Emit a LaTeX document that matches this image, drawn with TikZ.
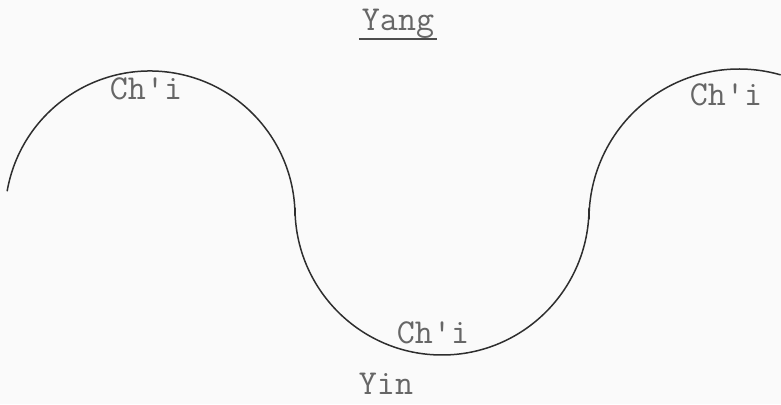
\documentclass[tikz,border=0pt]{standalone}
\usepackage{fontspec}
\begin{document}
\begin{tikzpicture}[x=1pt,y=1pt,
  lbl/.style={inner sep=0pt,anchor=base,text=black!60,font=\ttfamily\fontsize{35}{42}\selectfont},
  wave/.style={draw=black!82,line width=1.5pt,line cap=round,line join=round}]
\fill[black!2] (0,0) rectangle (781,404);
\useasboundingbox (0,0) rectangle (781,404);
% wave made of circular arcs
\draw[wave] (150,188) ++(170:145) arc[start angle=170,end angle=0,radius=145]
  -- (295,196) arc[start angle=180,end angle=360,radius=147]
  -- (589,185) arc[start angle=180,end angle=74,radius=150];
% labels
\node[lbl] (yang) at (398,373) {Yang};
\draw[black!70,line width=1.6pt] ([xshift=-3pt]yang.west |- 0,365) coordinate (ul1) -- ([xshift=3pt]yang.east |- 0,365) coordinate (ul2);
\node[lbl] (chi1) at (146,304) {Ch'i};
\node[lbl] (chi2) at (726,298) {Ch'i};
\node[lbl] (chi3) at (433,60) {Ch'i};
\node[lbl] (yin) at (386,10) {Yin};
\end{tikzpicture}
\end{document}
